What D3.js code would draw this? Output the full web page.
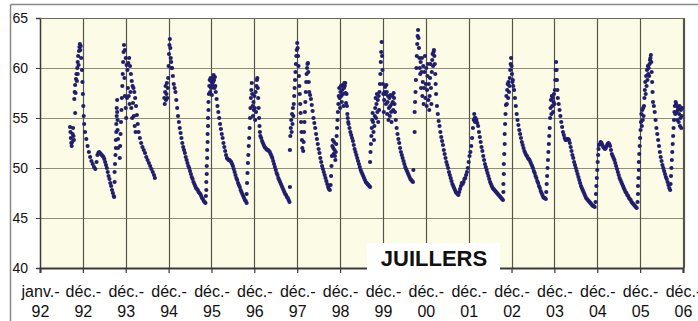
<!DOCTYPE html>
<html>
<head>
<meta charset="utf-8">
<script src="https://cdn.jsdelivr.net/npm/d3@7"></script>
<style>
  body { margin: 0; background: #fff; }
  svg { display: block; font-family: "Liberation Sans", Arial, sans-serif; }
</style>
</head>
<body>
<div id="chart"></div>
<script>
// t = years since janv.-92 (one tick per year), level in m
var tickLabels = ["janv.-92","déc.-92","déc.-93","déc.-94","déc.-95","déc.-96","déc.-97","déc.-98",
                  "déc.-99","déc.-00","déc.-01","déc.-02","déc.-03","déc.-04","déc.-05","déc.-06"];
var yTicks = [40, 45, 50, 55, 60, 65];
var title = "JUILLERS";

var c1992 = [[0.70,54.1],[0.71,53.6],[0.72,53.0],[0.73,52.5],[0.74,52.2],[0.75,52.6],[0.76,53.4],[0.77,54.0],[0.78,53.2],[0.79,52.8],
  [0.82,55.5],[0.80,56.9],[0.81,57.6],[0.82,58.3],[0.83,57.5],[0.84,58.9],[0.85,59.4],[0.86,58.7],[0.87,60.0],[0.88,59.4],[0.88,60.6],
  [0.89,61.2],[0.90,60.3],[0.91,61.7],[0.92,62.1],[0.93,62.4],[0.94,61.8],[0.95,62.2],[0.96,61.0],[0.98,59.8],[0.99,58.6],[1.00,57.4],
  [1.01,56.2],[1.02,55.2],[1.03,54.4],[1.05,53.6],[1.08,52.9],[1.11,52.2],[1.14,51.6],[1.17,51.1],[1.20,50.7],[1.23,50.4],[1.26,50.1],
  [1.29,49.9],[1.32,50.6],[1.34,51.3],[1.36,51.5],[1.38,51.6],[1.40,51.5],[1.42,51.4],[1.44,51.3],[1.46,51.2],[1.48,51.1],[1.50,50.9],
  [1.52,50.6],[1.54,50.3],[1.56,50.0],[1.58,49.6],[1.60,49.2],[1.62,48.9],[1.64,48.5],[1.66,48.2],[1.68,47.8],[1.70,47.5],[1.72,47.2],[1.73,47.1]];

var c1993 = [[1.74,48.6],[1.74,49.6],[1.75,50.4],[1.76,51.3],[1.77,52.0],[1.77,52.8],[1.78,53.6],[1.78,54.4],[1.79,55.2],[1.79,56.0],
  [1.80,56.8],[1.80,55.6],[1.81,54.8],[1.81,53.8],[1.82,52.9],[1.82,52.0],[1.86,51.0],[1.87,52.2],[1.88,53.4],[1.89,54.6],[1.90,55.8],
  [1.91,57.0],[1.92,58.2],[1.93,59.4],[1.94,60.6],[1.95,61.6],[1.96,62.3],[1.98,61.8],[2.00,61.0],[2.02,60.3],[2.04,59.8],[2.06,60.5],
  [2.08,61.0],[2.10,60.2],[2.12,59.4],[2.14,58.7],[2.16,58.2],[2.18,58.0],[2.20,57.6],[2.22,57.0],[2.24,56.2],[2.26,55.3],[2.28,54.4],
  [1.97,59.0],[1.98,57.2],[2.00,56.0],[2.01,55.0],[2.03,57.0],[2.05,58.0],[2.07,57.2],[2.09,56.4],[2.11,57.6],[2.13,56.0],[2.15,55.0],
  [2.17,56.5],[2.19,55.2],[2.21,54.2],[2.23,53.6],[2.30,53.6],[2.33,53.0],[2.36,52.5],[2.39,52.1],[2.42,51.8],[2.45,51.5],[2.48,51.1],
  [2.51,50.8],[2.54,50.5],[2.57,50.2],[2.60,49.9],[2.63,49.6],[2.66,49.3],[2.68,49.0]];

var c1994 = [[2.90,57.0],[2.91,56.4],[2.92,57.6],[2.93,58.2],[2.94,56.8],[2.95,57.4],[2.96,58.5],[2.97,57.0],[2.98,58.0],[2.99,59.0],
  [3.00,60.2],[3.01,61.4],[3.02,62.3],[3.03,62.9],[3.04,62.0],[3.05,61.0],[3.06,60.6],[3.07,60.0],[3.08,60.0],[3.10,59.2],[3.12,58.4],
  [3.14,58.0],[3.16,57.6],[3.18,56.8],[3.20,56.0],[3.22,55.2],[3.24,54.6],[3.26,54.0],[3.28,53.5],[3.30,53.0],[3.32,52.5],[3.34,52.1],
  [3.36,51.8],[3.38,51.5],[3.40,51.1],[3.42,50.8],[3.44,50.5],[3.46,50.2],[3.48,50.0],[3.50,49.7],[3.52,49.4],[3.54,49.1],[3.56,48.9],
  [3.58,48.6],[3.60,48.4],[3.62,48.2],[3.64,48.0],[3.66,47.9],[3.68,47.8],[3.70,47.6],[3.72,47.5],[3.74,47.4],[3.76,47.2],[3.78,47.0],
  [3.80,46.9],[3.82,46.7],[3.84,46.6],[3.86,46.5]];

var c1995 = [[3.87,47.2],[3.88,47.8],[3.88,48.6],[3.89,49.4],[3.89,50.2],[3.90,51.0],[3.90,51.8],[3.91,52.6],[3.91,53.4],[3.92,54.2],
  [3.92,55.0],[3.93,55.8],[3.93,56.6],[3.94,57.4],[3.95,58.2],[3.96,58.8],[3.97,57.6],[3.98,59.0],[3.99,58.0],[4.00,58.6],[4.01,57.3],
  [4.02,58.3],[4.03,59.0],[4.04,58.6],[4.05,59.3],[4.06,58.8],[4.07,58.0],[4.08,59.1],[4.09,58.2],[4.10,57.6],[4.12,56.9],[4.14,56.2],
  [4.16,55.6],[4.18,55.0],[4.20,54.4],[4.22,53.9],[4.24,53.4],[4.26,53.0],[4.28,52.5],[4.30,52.1],[4.32,51.7],[4.34,51.3],[4.36,51.0],
  [4.38,50.9],[4.40,50.8],[4.42,50.8],[4.44,50.7],[4.46,50.6],[4.48,50.4],[4.50,50.2],[4.52,49.9],[4.54,49.6],[4.56,49.3],[4.58,49.0],
  [4.60,48.8],[4.62,48.5],[4.64,48.3],[4.66,48.1],[4.68,47.8],[4.70,47.6],[4.72,47.4],[4.74,47.2],[4.76,47.0],[4.78,46.8],[4.80,46.7],[4.82,46.5]];

var c1996 = [[4.82,47.4],[4.83,48.5],[4.84,49.5],[4.85,50.5],[4.86,51.3],[4.87,52.2],[4.88,53.0],[4.89,54.0],[4.90,55.0],[4.91,56.0],
  [4.92,57.0],[4.93,57.8],[4.94,58.5],[4.95,57.4],[4.96,56.2],[4.97,55.2],[4.98,56.6],[4.99,55.8],[5.00,57.2],[5.01,56.0],[5.02,54.8],
  [5.03,57.6],[5.04,55.6],[5.05,58.2],[5.06,58.8],[5.07,59.0],[5.08,58.0],[5.09,57.0],[5.10,56.0],[5.11,55.0],[5.12,54.2],[5.13,53.6],
  [5.14,53.2],[5.16,53.0],[5.18,52.7],[5.20,52.5],[5.22,52.3],[5.24,52.1],[5.26,52.0],[5.28,51.9],[5.30,51.8],[5.32,51.8],[5.34,51.7],
  [5.36,51.6],[5.38,51.4],[5.40,51.2],[5.42,51.0],[5.44,50.7],[5.46,50.4],[5.48,50.1],[5.50,49.8],[5.52,49.5],[5.54,49.3],[5.56,49.0],
  [5.58,48.8],[5.60,48.6],[5.62,48.4],[5.64,48.2],[5.66,48.0],[5.68,47.8],[5.70,47.6],[5.72,47.4],[5.74,47.3],[5.76,47.1],[5.78,47.0],
  [5.80,46.8],[5.82,46.6]];

var c1997 = [[5.83,48.1],[5.83,51.8],[5.84,53.2],[5.85,54.0],[5.86,54.8],[5.87,53.6],[5.88,55.4],[5.89,54.4],[5.90,56.0],[5.91,55.2],
  [5.92,56.4],[5.93,57.2],[5.94,58.0],[5.95,58.8],[5.96,59.6],[5.97,60.4],[5.98,61.2],[5.99,61.8],[6.00,62.5],[6.01,62.0],[6.02,61.2],
  [6.03,60.2],[6.04,59.2],[6.05,58.2],[6.06,57.4],[6.07,56.4],[6.08,55.5],[6.09,54.6],[6.10,53.6],[6.11,52.8],[6.12,52.0],[6.14,51.7],
  [6.15,52.6],[6.16,53.6],[6.17,54.6],[6.18,55.6],[6.19,56.6],[6.20,57.6],[6.21,58.6],[6.22,59.4],[6.23,60.0],[6.24,60.4],[6.25,60.5],
  [6.26,59.6],[6.27,58.6],[6.28,57.6],[6.30,57.3],[6.32,56.9],[6.34,56.3],[6.36,55.7],[6.38,55.0],[6.40,54.5],[6.42,54.0],[6.44,53.4],
  [6.46,52.9],[6.48,52.4],[6.50,51.9],[6.52,51.5],[6.54,51.0],[6.56,50.6],[6.58,50.2],[6.60,49.9],[6.62,49.6],[6.64,49.3],[6.66,49.0],
  [6.68,48.7],[6.70,48.4],[6.72,48.1],[6.74,47.9],[6.76,47.8]];

var c1998 = [[6.78,48.3],[6.79,49.2],[6.80,50.2],[6.81,51.2],[6.82,52.2],[6.83,52.8],[6.84,52.0],[6.85,51.4],[6.86,52.6],[6.87,51.8],
  [6.88,51.2],[6.89,50.8],[6.90,51.6],[6.91,52.4],[6.92,53.2],[6.93,54.0],[6.94,54.8],[6.95,55.6],[6.96,56.4],[6.97,57.2],[6.98,58.0],
  [6.99,57.0],[7.00,56.0],[7.01,57.6],[7.02,58.2],[7.03,57.2],[7.04,56.6],[7.05,57.8],[7.06,58.3],[7.07,57.4],[7.08,56.2],[7.09,58.0],
  [7.10,58.5],[7.11,58.2],[7.12,58.5],[7.13,57.5],[7.14,56.5],[7.15,57.4],[7.16,56.2],[7.17,55.4],[7.18,55.0],[7.19,54.6],[7.20,54.4],
  [7.22,54.0],[7.24,53.6],[7.26,53.3],[7.28,53.0],[7.30,52.7],[7.32,52.3],[7.34,51.9],[7.36,51.6],[7.38,51.3],[7.40,51.0],[7.42,50.7],
  [7.44,50.4],[7.46,50.1],[7.48,49.8],[7.50,49.6],[7.52,49.4],[7.54,49.2],[7.56,49.0],[7.58,48.8],[7.60,48.6],[7.62,48.5],[7.64,48.4],
  [7.66,48.3],[7.68,48.2],[7.70,48.1]];

var c1999 = [[7.70,50.6],[7.71,51.6],[7.72,52.4],[7.73,53.2],[7.74,54.0],[7.75,54.8],[7.76,55.5],[7.77,54.6],[7.78,53.6],[7.79,52.8],
  [7.80,54.2],[7.81,55.2],[7.82,56.0],[7.83,57.0],[7.84,55.0],[7.85,56.4],[7.86,57.4],[7.87,55.6],[7.88,56.8],[7.89,54.6],[7.90,57.2],
  [7.91,55.8],[7.92,57.6],[7.93,58.4],[7.94,59.4],[7.95,60.6],[7.96,61.6],[7.97,62.6],[7.98,61.2],[7.99,59.8],[8.00,58.4],[8.01,57.4],
  [8.02,55.6],[8.03,56.8],[8.04,57.6],[8.05,58.1],[8.06,57.4],[8.07,56.4],[8.08,58.3],[8.09,57.6],[8.10,55.4],[8.11,56.6],[8.12,57.2],
  [8.13,54.8],[8.14,56.0],[8.15,57.0],[8.16,55.2],[8.17,56.2],[8.18,57.3],[8.19,55.6],[8.20,54.6],[8.21,56.4],[8.22,57.2],[8.23,56.6],
  [8.24,55.8],[8.25,57.5],[8.26,57.0],[8.27,56.4],[8.28,55.6],[8.30,54.8],[8.32,54.0],[8.34,53.4],[8.36,52.9],[8.38,52.5],[8.40,52.0],
  [8.42,51.6],[8.44,51.3],[8.46,51.0],[8.48,50.7],[8.50,50.4],[8.52,50.1],[8.54,49.9],[8.56,49.7],[8.58,49.5],[8.60,49.3],[8.62,49.1],
  [8.64,48.9],[8.66,48.8],[8.68,48.7],[8.70,48.6]];

var c2000 = [[8.71,49.8],[8.74,53.6],[8.74,55.6],[8.75,56.6],[8.76,57.6],[8.77,58.8],[8.78,60.0],[8.79,61.2],[8.80,62.4],[8.81,63.2],
  [8.82,63.8],[8.83,63.0],[8.84,62.0],[8.85,61.0],[8.86,60.0],[8.87,59.4],[8.88,60.6],[8.89,58.0],[8.90,59.6],[8.91,61.0],[8.92,57.2],
  [8.93,58.6],[8.94,60.2],[8.95,56.4],[8.96,58.0],[8.97,59.6],[8.98,61.2],[8.99,57.0],[9.00,58.4],[9.01,60.0],[9.02,56.2],[9.03,57.8],
  [9.04,59.2],[9.05,60.4],[9.06,56.8],[9.07,58.4],[9.08,55.8],[9.09,57.2],[9.10,59.0],[9.11,60.4],[9.12,58.0],[9.13,56.4],[9.14,59.6],
  [9.15,60.8],[9.16,61.4],[9.17,60.2],[9.18,61.6],[9.19,61.8],[9.20,61.2],[9.21,60.4],[9.22,59.4],[9.23,58.4],[9.24,57.4],[9.26,56.2],
  [9.28,55.4],[9.30,54.7],[9.32,54.2],[9.34,53.6],[9.36,53.1],[9.38,52.7],[9.40,52.3],[9.42,51.8],[9.44,51.4],[9.46,51.0],[9.48,50.6],
  [9.50,50.3],[9.52,50.0],[9.54,49.6],[9.56,49.3],[9.58,49.0],[9.60,48.7],[9.62,48.4],[9.64,48.2],[9.66,48.0],[9.68,47.8],[9.70,47.6],
  [9.72,47.5],[9.74,47.4],[9.76,47.3]];

var c2001 = [[9.78,47.6],[9.80,47.9],[9.82,48.2],[9.84,48.5],[9.86,48.4],[9.88,48.6],[9.90,48.9],[9.92,49.0],[9.94,49.3],[9.96,49.6],
  [9.98,50.0],[10.00,50.6],[10.02,51.2],[10.04,51.6],[10.06,52.2],[10.08,53.0],[10.10,54.0],[10.12,54.8],[10.13,55.4],[10.14,55.0],
  [10.15,54.6],[10.16,55.0],[10.18,54.8],[10.20,54.5],[10.22,54.2],[10.24,53.6],[10.26,53.1],[10.28,52.6],[10.30,52.1],[10.32,51.7],
  [10.34,51.2],[10.36,50.8],[10.38,50.4],[10.40,50.1],[10.42,49.8],[10.44,49.5],[10.46,49.2],[10.48,48.9],[10.50,48.6],[10.52,48.4],
  [10.54,48.2],[10.56,48.0],[10.58,47.9],[10.60,47.8],[10.62,47.7],[10.64,47.6],[10.66,47.5],[10.68,47.4],[10.70,47.3],[10.72,47.2],
  [10.74,47.1],[10.76,47.0],[10.78,46.9],[10.80,46.8]];

var c2002 = [[10.81,47.6],[10.81,48.4],[10.82,49.4],[10.82,50.4],[10.83,51.4],[10.84,52.4],[10.84,53.4],[10.85,54.4],[10.86,55.4],
  [10.87,56.3],[10.88,57.2],[10.89,56.4],[10.90,57.8],[10.91,58.4],[10.92,57.0],[10.93,58.6],[10.94,57.6],[10.95,58.2],[10.96,59.0],
  [10.97,59.8],[10.98,60.4],[10.99,61.0],[11.00,60.2],[11.01,59.4],[11.02,58.6],[11.03,58.8],[11.04,58.2],[11.06,57.8],[11.08,57.0],
  [11.10,56.2],[11.12,55.4],[11.14,54.8],[11.16,54.3],[11.18,53.8],[11.20,53.4],[11.22,53.0],[11.24,52.6],[11.26,52.3],[11.28,52.0],
  [11.30,51.7],[11.32,51.5],[11.34,51.3],[11.36,51.2],[11.38,51.0],[11.40,50.9],[11.42,50.8],[11.44,50.6],[11.46,50.4],[11.48,50.2],
  [11.50,50.0],[11.52,49.7],[11.54,49.5],[11.56,49.2],[11.58,49.0],[11.60,48.7],[11.62,48.5],[11.64,48.2],[11.66,48.0],[11.68,47.7],
  [11.70,47.5],[11.72,47.3],[11.74,47.1],[11.76,47.0],[11.78,47.0],[11.80,46.9]];

var c2003 = [[11.81,47.6],[11.82,48.4],[11.83,49.2],[11.84,50.0],[11.85,50.8],[11.86,51.6],[11.87,52.4],[11.88,53.2],[11.89,54.0],
  [11.90,55.0],[11.91,56.0],[11.92,56.8],[11.93,55.4],[11.94,57.2],[11.95,56.2],[11.96,57.0],[11.97,55.6],[11.98,56.6],[11.99,57.4],
  [12.00,56.4],[12.01,57.8],[12.02,58.8],[12.03,59.8],[12.04,60.6],[12.05,59.8],[12.06,58.8],[12.07,57.8],[12.08,57.0],[12.10,56.4],
  [12.12,55.8],[12.14,55.2],[12.16,54.6],[12.18,54.1],[12.20,53.6],[12.22,53.3],[12.24,53.0],[12.26,52.8],[12.28,52.8],[12.30,52.9],
  [12.32,52.9],[12.34,52.8],[12.36,52.5],[12.38,52.1],[12.40,51.7],[12.42,51.3],[12.44,51.0],[12.46,50.6],[12.48,50.3],[12.50,50.0],
  [12.52,49.7],[12.54,49.4],[12.56,49.1],[12.58,48.8],[12.60,48.5],[12.62,48.2],[12.64,48.0],[12.66,47.8],[12.68,47.6],[12.70,47.4],
  [12.72,47.2],[12.74,47.0],[12.76,46.9],[12.78,46.8],[12.80,46.7],[12.82,46.6],[12.84,46.5],[12.86,46.4],[12.88,46.3],[12.90,46.2],
  [12.92,46.2],[12.94,46.1]];

var c2004 = [[12.96,46.6],[12.97,47.4],[12.98,48.2],[12.99,49.0],[13.00,49.8],[13.01,50.6],[13.02,51.3],[13.03,51.9],[13.04,52.3],
  [13.06,52.4],[13.08,52.6],[13.10,52.5],[13.12,52.3],[13.14,52.1],[13.16,52.0],[13.18,51.9],[13.20,52.0],[13.22,52.2],[13.24,52.4],
  [13.26,52.5],[13.28,52.4],[13.30,52.2],[13.32,51.8],[13.34,51.4],[13.36,51.2],[13.38,51.0],[13.40,50.8],[13.42,50.5],[13.44,50.2],
  [13.46,49.9],[13.48,49.6],[13.50,49.3],[13.52,49.0],[13.54,48.8],[13.56,48.6],[13.58,48.4],[13.60,48.2],[13.62,48.0],[13.64,47.8],
  [13.66,47.6],[13.68,47.5],[13.70,47.3],[13.72,47.2],[13.74,47.0],[13.76,46.9],[13.78,46.8],[13.80,46.6],[13.82,46.5],[13.84,46.4],
  [13.86,46.3],[13.88,46.2],[13.90,46.1],[13.92,46.0]];

var c2005 = [[13.94,46.6],[13.95,47.4],[13.95,48.2],[13.96,49.0],[13.97,49.8],[13.97,50.6],[13.98,51.4],[13.99,52.2],[14.00,53.0],
  [14.01,53.8],[14.02,54.6],[14.03,55.4],[14.04,54.2],[14.05,55.8],[14.06,54.8],[14.07,56.0],[14.08,55.2],[14.09,56.2],[14.10,57.0],
  [14.11,57.8],[14.12,58.6],[14.13,57.4],[14.14,59.2],[14.15,58.2],[14.16,59.8],[14.17,58.8],[14.18,60.2],[14.19,59.4],[14.20,60.0],
  [14.21,59.2],[14.22,60.4],[14.23,60.8],[14.24,61.0],[14.25,61.3],[14.26,60.6],[14.27,59.6],[14.28,58.6],[14.29,57.6],[14.30,56.6],
  [14.32,56.2],[14.34,55.6],[14.36,54.8],[14.38,54.0],[14.40,53.4],[14.42,52.8],[14.44,52.2],[14.46,51.6],[14.48,51.1],[14.50,50.7],
  [14.52,50.3],[14.54,50.0],[14.56,49.7],[14.58,49.4],[14.60,49.1],[14.62,48.9],[14.64,48.6],[14.66,48.3],[14.68,48.0],[14.70,47.8]];

var c2006 = [[14.71,48.4],[14.72,49.2],[14.73,50.0],[14.74,50.8],[14.75,51.6],[14.76,52.4],[14.77,53.2],[14.78,54.0],[14.79,54.8],
  [14.80,55.6],[14.81,56.2],[14.82,55.4],[14.83,56.6],[14.84,56.4],[14.85,55.6],[14.86,56.2],[14.87,54.8],[14.88,55.8],[14.89,56.0],
  [14.90,54.6],[14.91,55.4],[14.92,56.2],[14.93,54.2],[14.94,55.0],[14.95,55.8],[14.96,54.0],[14.97,55.2],[14.98,56.0]];

var levels = [].concat(c1992, c1993, c1994, c1995, c1996, c1997, c1998, c1999,
                       c2000, c2001, c2002, c2003, c2004, c2005, c2006);

var W = 698, H = 321;
var plotL = 40, plotR = 683, plotT = 18, plotB = 268;

var svg = d3.select("#chart").append("svg")
    .attr("width", W)
    .attr("height", H);

var x = d3.scaleLinear().domain([0, 15]).range([plotL, plotR]);
var y = d3.scaleLinear().domain([40, 65]).range([plotB, plotT]);

// outer frame (top and left edges are visible)
svg.append("line").attr("x1", 10.5).attr("x2", W).attr("y1", 4.5).attr("y2", 4.5)
    .style("stroke", "#8a8a8a").style("stroke-width", 1.5);
svg.append("line").attr("x1", 10.5).attr("x2", 10.5).attr("y1", 4.5).attr("y2", H)
    .style("stroke", "#8a8a8a").style("stroke-width", 1.5);

// plot background
svg.append("rect")
    .attr("x", plotL).attr("y", plotT)
    .attr("width", plotR - plotL + 1).attr("height", plotB - plotT)
    .style("fill", "#fcfce6");

// horizontal grid
svg.append("g").selectAll("line")
    .data(yTicks.slice(1))
    .enter().append("line")
    .attr("x1", plotL).attr("x2", plotR + 1)
    .attr("y1", function (d) { return Math.round(y(d)) + 0.5; })
    .attr("y2", function (d) { return Math.round(y(d)) + 0.5; })
    .style("stroke", "#8e8e7a")
    .style("stroke-width", 1.2);

// vertical grid
svg.append("g").selectAll("line")
    .data(d3.range(1, 16))
    .enter().append("line")
    .attr("x1", function (d) { return Math.round(x(d)) + 0.5; })
    .attr("x2", function (d) { return Math.round(x(d)) + 0.5; })
    .attr("y1", plotT).attr("y2", plotB)
    .style("stroke", "#55554a")
    .style("stroke-width", 1.2);

// x axis
var xAxis = d3.axisBottom(x)
    .tickValues(d3.range(16))
    .tickSize(5)
    .tickFormat(function (d) { return tickLabels[d]; });

var gx = svg.append("g")
    .attr("transform", "translate(0," + plotB + ")")
    .call(xAxis);
gx.select(".domain").style("stroke", "#3a3a3a").style("stroke-width", 2);
gx.selectAll(".tick line").style("stroke", "#3a3a3a").style("stroke-width", 1.2);
gx.selectAll(".tick text").each(function (d) {
    var parts = tickLabels[d].split("-");
    var t = d3.select(this).text(null)
        .attr("y", 0)
        .attr("dy", null)
        .style("font-size", "16px")
        .style("fill", "#111");
    t.append("tspan").attr("x", 0).attr("y", 29).text(parts[0] + "-");
    t.append("tspan").attr("x", 0).attr("y", 49).text(parts[1]);
});

// y axis
var yAxis = d3.axisLeft(y)
    .tickValues(yTicks)
    .tickSize(4)
    .tickPadding(8);
var gy = svg.append("g")
    .attr("transform", "translate(" + plotL + ",0)")
    .call(yAxis);
gy.select(".domain").style("stroke", "#3a3a3a").style("stroke-width", 1.5);
gy.selectAll(".tick line").style("stroke", "#3a3a3a");
gy.selectAll(".tick text").style("font-size", "14px").style("fill", "#111");

// right and top borders of the plot
svg.append("line")
    .attr("x1", plotR + 1.5).attr("x2", plotR + 1.5)
    .attr("y1", plotT).attr("y2", plotB)
    .style("stroke", "#55554a").style("stroke-width", 1.2);
svg.append("line")
    .attr("x1", plotL).attr("x2", plotR + 1.5)
    .attr("y1", plotT + 0.5).attr("y2", plotT + 0.5)
    .style("stroke", "#6a6a5a").style("stroke-width", 1.2);

// data points
svg.append("g").selectAll("circle")
    .data(levels)
    .enter().append("circle")
    .attr("cx", function (d) { return x(d[0]); })
    .attr("cy", function (d) { return y(d[1]); })
    .attr("r", 2.1)
    .style("fill", "#211f6c");

// title box
svg.append("rect")
    .attr("x", 367).attr("y", 243)
    .attr("width", 133).attr("height", 32)
    .style("fill", "#fff");
svg.append("text")
    .attr("x", 434).attr("y", 266)
    .attr("text-anchor", "middle")
    .style("font-size", "22px")
    .style("font-weight", "bold")
    .style("fill", "#111")
    .text(title);
</script>
</body>
</html>
